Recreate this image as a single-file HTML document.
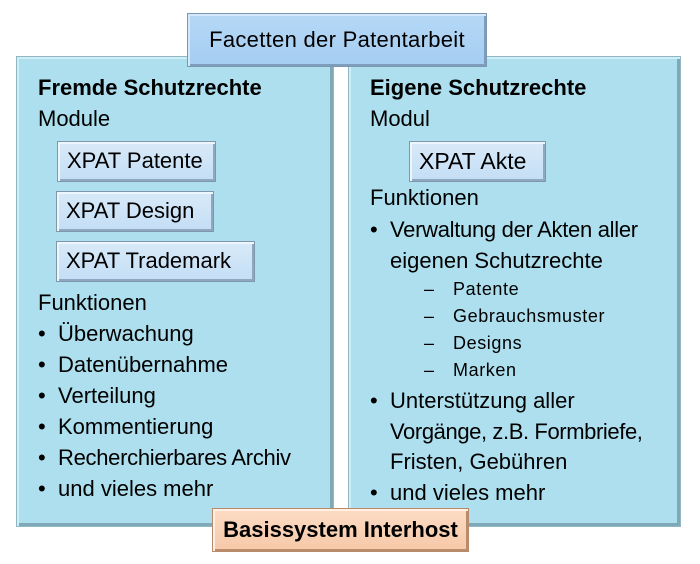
<!DOCTYPE html>
<html><head><meta charset="utf-8"><style>
body{margin:0;width:700px;height:564px;background:#fff;position:relative;overflow:hidden;font-family:"Liberation Sans","DejaVu Sans",sans-serif;color:#000}
.p{position:absolute;background:#addfee;box-shadow:inset 2px 2px 0 #cdeef7,inset -3px -3px 0 #7fa9b6;border:1px solid #8fb8c4}
.b{position:absolute;background:linear-gradient(#d8eaf8,#c4def6);border:1px solid #7f97ab;box-shadow:inset 2px 2px 0 #eef6fd,inset -2px -2px 0 #8ea8bf;font-size:22px;line-height:38px;padding-left:9px;box-sizing:border-box;letter-spacing:0}
.t{position:absolute;font-size:22px;line-height:30px;white-space:nowrap;letter-spacing:0}
.s{position:absolute;font-size:18px;line-height:24px;white-space:nowrap;letter-spacing:0.6px}
</style></head><body>
<div class="p" style="left:16px;top:56px;width:316px;height:469px"></div>
<div class="p" style="left:348px;top:56px;width:331px;height:469px"></div>
<div style="position:absolute;left:187px;top:13px;width:300px;height:54px;box-sizing:border-box;background:linear-gradient(#b6d8f6,#a4cdf1);border:1px solid #7898b5;box-shadow:inset 2px 2px 0 #d4e8fa,inset -2px -2px 0 #7e9dba;font-size:22px;line-height:52px;text-align:center;letter-spacing:0.3px">Facetten der Patentarbeit</div>
<div style="position:absolute;left:212px;top:508px;width:257px;height:44px;box-sizing:border-box;background:linear-gradient(#fcdcc4,#f7c8a8);border:1px solid #b88a6a;box-shadow:inset 2px 2px 0 #fff0e4,inset -2px -2px 0 #b98c6c;font-size:22px;font-weight:bold;line-height:42px;text-align:center;letter-spacing:0">Basissystem Interhost</div>

<div class="t" style="left:38px;top:73px;font-weight:bold">Fremde Schutzrechte</div>
<div class="t" style="left:38px;top:104px">Module</div>
<div class="b" style="left:57px;top:141px;width:159px;height:41px">XPAT Patente</div>
<div class="b" style="left:56px;top:191px;width:158px;height:41px">XPAT Design</div>
<div class="b" style="left:56px;top:241px;width:199px;height:41px">XPAT Trademark</div>
<div class="t" style="left:38px;top:288px">Funktionen</div>
<div class="t" style="left:38px;top:319px">•</div><div class="t" style="left:58px;top:319px">Überwachung</div>
<div class="t" style="left:38px;top:350px">•</div><div class="t" style="left:58px;top:350px">Datenübernahme</div>
<div class="t" style="left:38px;top:381px">•</div><div class="t" style="left:58px;top:381px">Verteilung</div>
<div class="t" style="left:38px;top:412px">•</div><div class="t" style="left:58px;top:412px">Kommentierung</div>
<div class="t" style="left:38px;top:443px">•</div><div class="t" style="left:58px;top:443px;letter-spacing:-0.3px">Recherchierbares Archiv</div>
<div class="t" style="left:38px;top:474px">•</div><div class="t" style="left:58px;top:474px">und vieles mehr</div>

<div class="t" style="left:370px;top:73px;font-weight:bold">Eigene Schutzrechte</div>
<div class="t" style="left:370px;top:104px">Modul</div>
<div class="b" style="left:409px;top:141px;width:137px;height:41px;font-size:23px">XPAT Akte</div>
<div class="t" style="left:370px;top:183px">Funktionen</div>
<div class="t" style="left:370px;top:215px">•</div><div class="t" style="left:390px;top:215px;letter-spacing:-0.3px">Verwaltung der Akten aller</div>
<div class="t" style="left:390px;top:246px">eigenen Schutzrechte</div>
<div class="s" style="left:424px;top:277px">–</div><div class="s" style="left:453px;top:277px">Patente</div>
<div class="s" style="left:424px;top:304px">–</div><div class="s" style="left:453px;top:304px">Gebrauchsmuster</div>
<div class="s" style="left:424px;top:331px">–</div><div class="s" style="left:453px;top:331px">Designs</div>
<div class="s" style="left:424px;top:358px">–</div><div class="s" style="left:453px;top:358px">Marken</div>
<div class="t" style="left:370px;top:386px">•</div><div class="t" style="left:390px;top:386px">Unterstützung aller</div>
<div class="t" style="left:390px;top:417px;letter-spacing:-0.4px">Vorgänge, z.B. Formbriefe,</div>
<div class="t" style="left:390px;top:447px">Fristen, Gebühren</div>
<div class="t" style="left:370px;top:478px">•</div><div class="t" style="left:390px;top:478px">und vieles mehr</div>
</body></html>
